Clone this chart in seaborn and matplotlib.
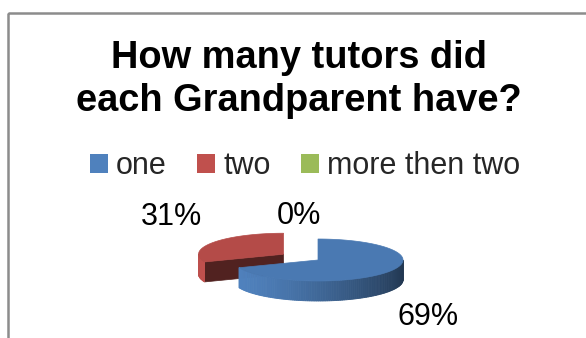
import numpy as np
import matplotlib
matplotlib.use("Agg")
import matplotlib.pyplot as plt
import seaborn as sns
from matplotlib.patches import Polygon, Rectangle, Patch

# ---- data -------------------------------------------------------------
categories = ["one", "two", "more then two"]
shares = [69, 31, 0]                 # percent of grandparents
explode = [0.0, 0.49, 0.0]           # pull-out distance, fraction of radius
title_lines = ["How many tutors did", "each Grandparent have?"]

# ---- style ------------------------------------------------------------
sns.set_theme(style="white")
plt.rcParams["font.family"] = ["Liberation Sans", "DejaVu Sans"]
palette = sns.color_palette(["#4F81BD", "#C0504D", "#9BBB59"])

W, H = 586, 338
fig = plt.figure(figsize=(W / 100, H / 100), dpi=100)
ax = fig.add_axes([0, 0, 1, 1])
ax.set_xlim(0, W)
ax.set_ylim(H, 0)
ax.axis("off")

# chart-area frame
ax.add_patch(Rectangle((7.5, 12.5), W, H, fill=False, ec="#8c8c8c", lw=1.8))

# ---- 3-D pie geometry -------------------------------------------------
cx, cy = 318, 260      # centre of the top face
rx, ry = 85, 21        # ellipse radii of the top face
depth = 20             # thickness of the disc


def pt(x0, y0, th, dz=0.0):
    t = np.radians(th)
    return x0 + rx * np.sin(t), y0 - ry * np.cos(t) + dz


def shade(c, f):
    return tuple(np.clip(np.array(c) * f, 0, 1))


def side_light(th):
    # light coming from the front-left
    return 0.7 + 0.3 * np.cos(np.radians(th - 250))


total = float(sum(shares))
bounds = np.concatenate([[0.0], np.cumsum(shares) / total * 360.0])

slices = []
for i, (cat, v) in enumerate(zip(categories, shares)):
    a0, a1 = bounds[i], bounds[i + 1]
    mid = np.radians((a0 + a1) / 2)
    d = explode[i] * rx
    ox, oy = d * np.sin(mid), -d * (ry / rx) * np.cos(mid)
    slices.append((a0, a1, cx + ox, cy + oy, palette[i]))

# draw the slices that sit further back first
for a0, a1, x0, y0, col in sorted(slices, key=lambda s: s[3]):
    if a1 - a0 <= 0:
        continue
    # radial cut faces that look towards the viewer
    for a, n in ((a0, a0 - 90), (a1, a1 + 90)):
        if np.cos(np.radians(n)) < -1e-6:
            p = pt(x0, y0, a)
            poly = [(x0, y0), p, (p[0], p[1] + depth), (x0, y0 + depth)]
            ax.add_patch(Polygon(poly, closed=True, fc=shade(col, 0.42),
                                 ec=shade(col, 0.42), lw=0.5))
    # curved outer wall, front half only
    s0, s1 = max(a0, 90.0), min(a1, 270.0)
    if s1 > s0:
        ths = np.linspace(s0, s1, int((s1 - s0) / 1.5) + 2)
        for t0, t1 in zip(ths[:-1], ths[1:]):
            c = shade(col, side_light((t0 + t1) / 2))
            p0, p1 = pt(x0, y0, t0), pt(x0, y0, t1)
            poly = [p0, p1, (p1[0], p1[1] + depth), (p0[0], p0[1] + depth)]
            ax.add_patch(Polygon(poly, closed=True, fc=c, ec=c, lw=0.6))
    # top face
    ths = np.linspace(a0, a1, int((a1 - a0) / 1.0) + 2)
    poly = [(x0, y0)] + [pt(x0, y0, t) for t in ths]
    top = shade(col, 0.94)
    ax.add_patch(Polygon(poly, closed=True, fc=top, ec=top, lw=0.5))

# ---- data labels ------------------------------------------------------
label_pos = [(428, 317), (171, 217), (299, 216)]
for v, (lx, ly) in zip(shares, label_pos):
    ax.text(lx, ly, f"{v}%", fontsize=22, ha="center", va="center",
            color="black")

# ---- title ------------------------------------------------------------
for line, base in zip(title_lines, (68, 111)):
    ax.text(299, base, line, fontsize=27.4, fontweight="bold", ha="center",
            va="baseline", color="black")

# ---- legend -----------------------------------------------------------
handles = [Patch(facecolor=c, edgecolor="none") for c in palette]
fig.legend(handles, categories, loc="center", ncol=3, frameon=False,
           bbox_to_anchor=(305 / W, 1 - 166 / H), fontsize=22,
           handlelength=0.58, handleheight=0.58, handletextpad=0.27,
           columnspacing=1.0, borderpad=0, borderaxespad=0)

fig.savefig("out.png", dpi=100, facecolor="white")
